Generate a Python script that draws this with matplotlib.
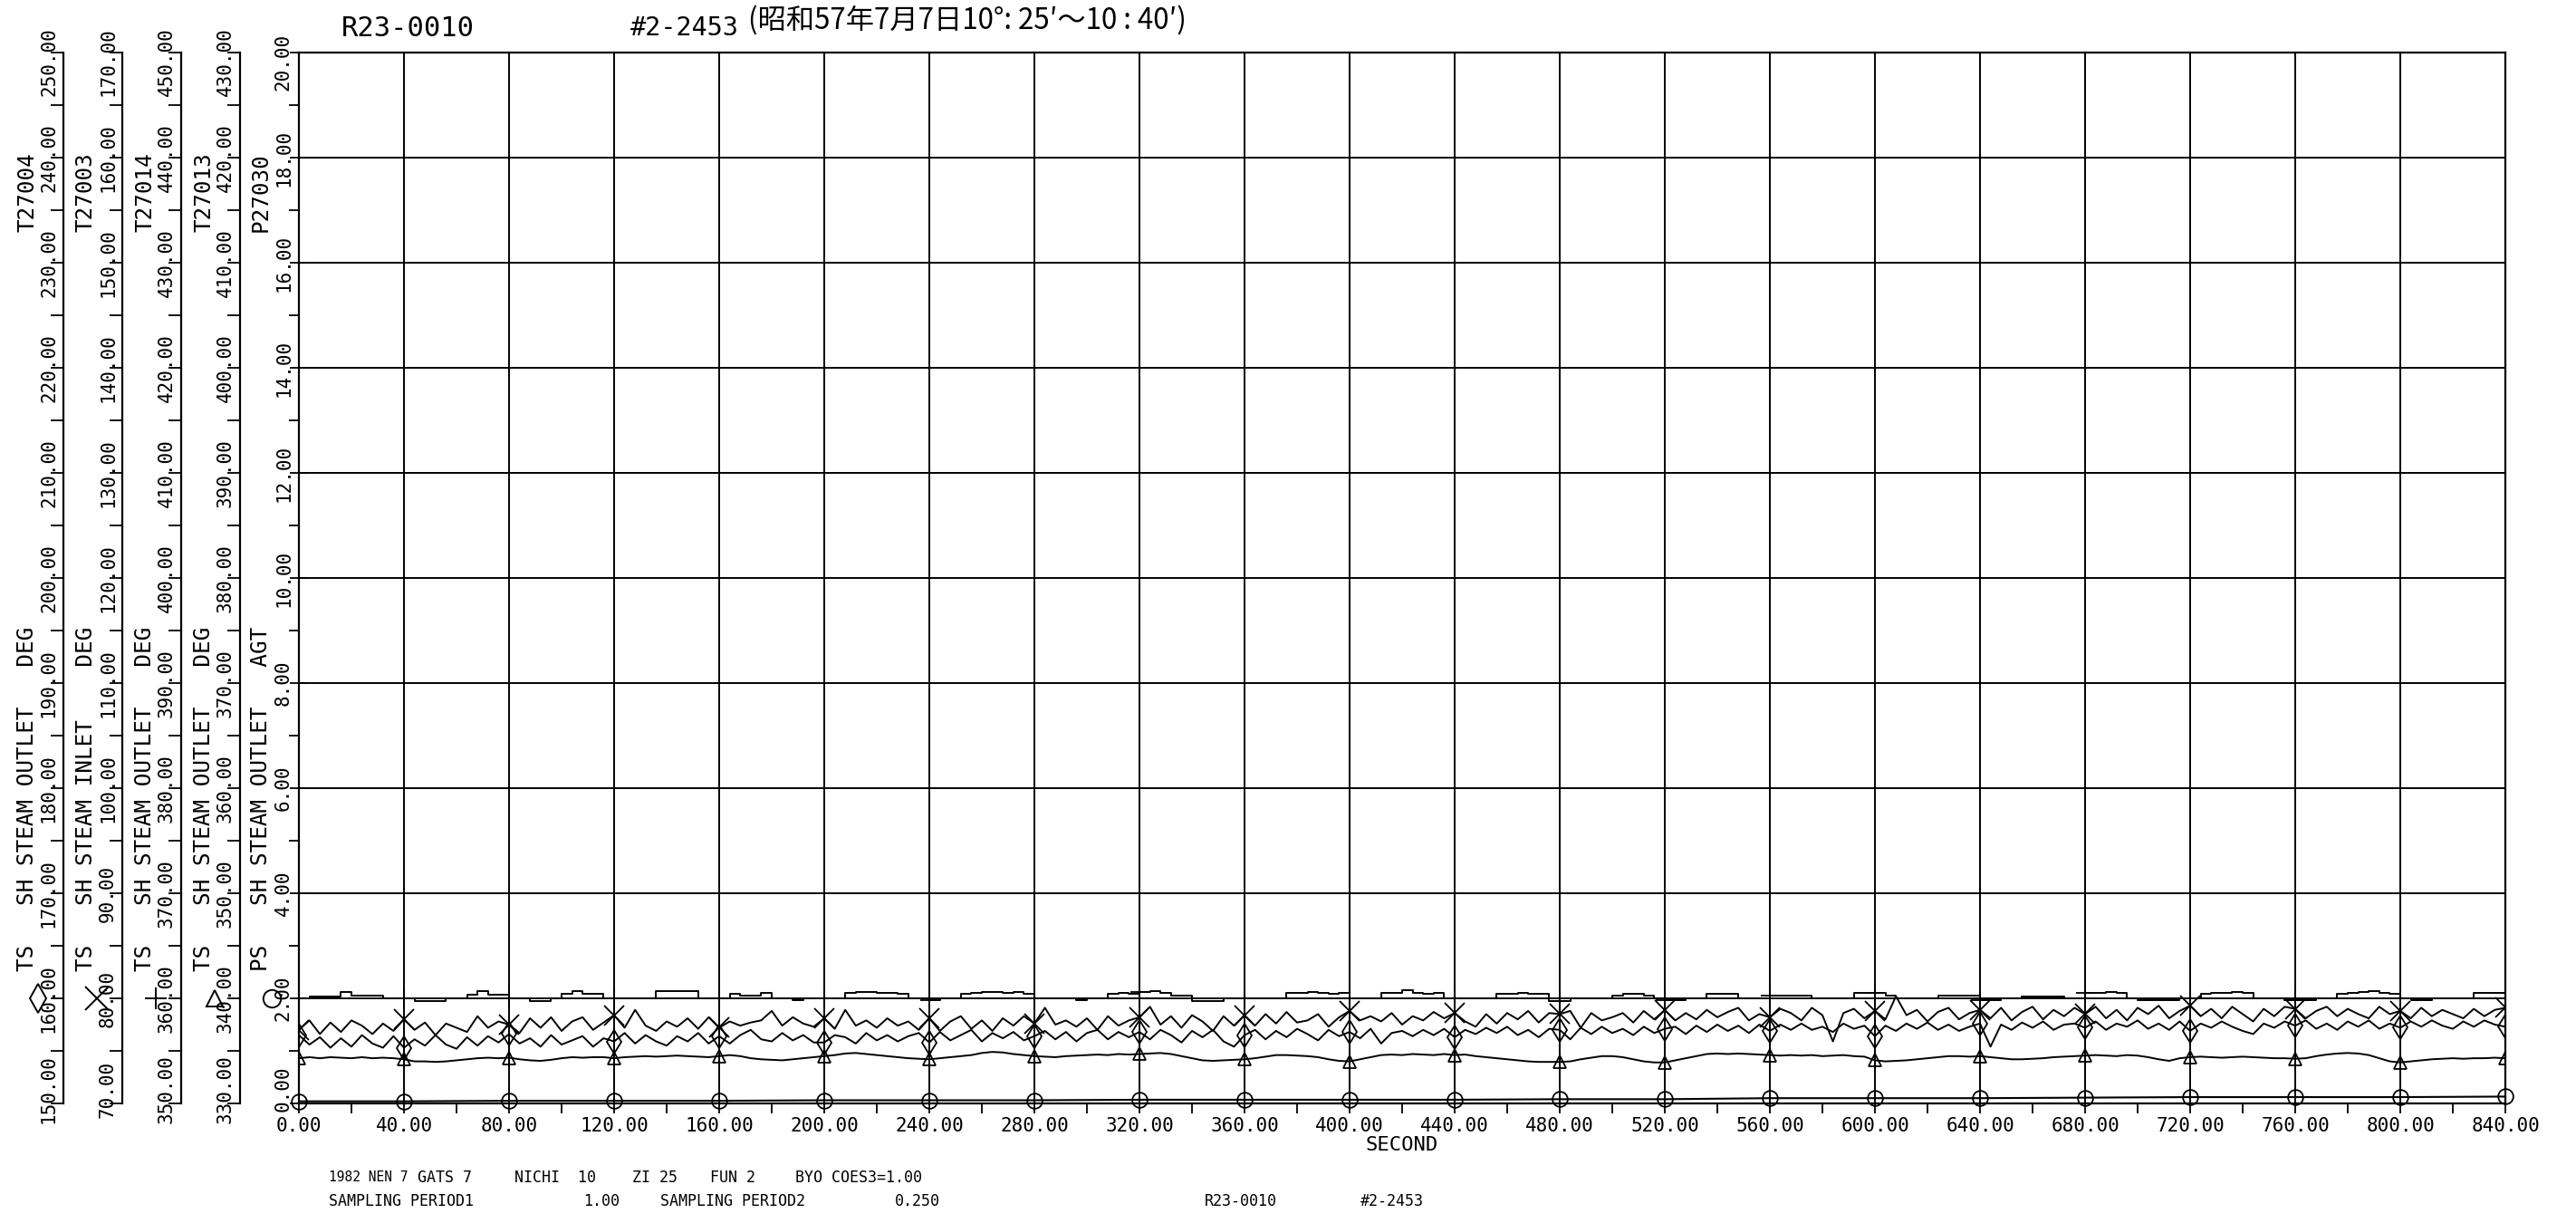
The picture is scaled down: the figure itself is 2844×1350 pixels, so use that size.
import numpy as np
import matplotlib
matplotlib.use("Agg")
import matplotlib.pyplot as plt
from matplotlib.ticker import MultipleLocator, FormatStrFormatter
from matplotlib.transforms import blended_transform_factory

# sample times (s)
t4 = np.arange(0, 841, 4)
t40 = np.arange(0, 841, 40)

# T27004  SH steam outlet (diamond)
t27004 = [
    156.5, 155.6, 156.3, 155.3, 156.2, 155.4, 156.5, 155.7, 155.3, 156.4,
    155.3, 156.1, 155.5, 156.5, 155.6, 155.2, 156.3, 155.5, 156.4, 155.8,
    156.6, 155.7, 156.2, 155.4, 156.5, 155.6, 156.0, 156.4, 155.4, 156.2,
    155.9, 156.7, 155.7, 156.5, 155.9, 155.5, 156.4, 155.9, 156.7, 155.7,
    156.4, 155.7, 156.5, 157.0, 156.1, 155.9, 156.7, 156.0, 156.5, 155.8,
    155.8, 156.5, 156.3, 155.7, 156.7, 156.0, 156.5, 155.9, 156.4, 156.7,
    155.8, 156.8, 156.0, 156.5, 157.0, 155.9, 156.7, 156.2, 156.8, 156.0,
    156.4, 156.9, 156.1, 156.8, 155.9, 156.7, 157.0, 156.1, 156.8, 156.3,
    156.8, 156.1, 157.0, 156.5, 155.8, 156.9, 156.3, 157.0, 155.9, 155.4,
    156.5, 157.0, 156.1, 156.9, 156.3, 157.1, 156.6, 156.0, 157.0, 156.4,
    156.8, 156.2, 157.1, 155.7, 156.7, 156.9, 156.4, 157.0, 156.5, 157.1,
    156.3, 157.0, 156.6, 157.2, 156.7, 157.3, 156.5, 157.0, 156.3, 157.1,
    157.0, 156.1, 157.2, 156.6, 157.3, 156.7, 157.1, 156.5, 157.3, 156.7,
    157.1, 157.3, 156.6, 157.4, 156.8, 157.5, 156.9, 157.4, 156.7, 157.5,
    156.9, 157.5, 157.0, 157.6, 157.0, 157.3, 156.8, 157.6, 157.1, 157.4,
    156.4, 157.4, 156.9, 157.6, 157.1, 157.7, 157.0, 157.5, 156.9, 157.3,
    157.6, 155.4, 157.5, 157.0, 157.7, 157.2, 157.8, 157.0, 157.5, 157.6,
    157.2, 157.8, 157.0, 157.6, 157.3, 157.9, 157.1, 157.6, 157.0, 157.8,
    156.9, 157.6, 157.2, 157.8, 157.3, 156.9, 156.6, 157.6, 157.2, 157.8,
    157.4, 157.9, 157.1, 157.6, 157.0, 157.8, 157.3, 157.9, 157.1, 157.6,
    157.2, 157.8, 157.3, 157.9, 157.4, 157.1, 157.8, 157.3, 157.9, 157.5,
    157.3,
]

# T27003  SH steam inlet (x)
t27003 = [
    77.0, 77.9, 76.6, 77.7, 76.8, 77.9, 77.4, 76.6, 77.6, 76.9,
    78.0, 77.0, 77.7, 76.5, 77.6, 77.2, 76.8, 78.3, 77.2, 77.8,
    77.5, 76.7, 78.1, 77.2, 78.2, 76.9, 77.8, 78.2, 77.0, 77.7,
    78.4, 77.2, 78.9, 77.4, 76.9, 77.8, 77.3, 78.1, 77.1, 78.2,
    77.2, 77.8, 77.4, 77.7, 77.9, 78.8, 77.4, 78.2, 77.6, 77.3,
    78.1, 77.1, 78.9, 77.4, 77.9, 77.2, 78.1, 77.4, 77.8, 77.0,
    78.1, 76.9, 77.8, 78.3, 77.1, 77.9, 76.9, 78.1, 77.4, 78.3,
    77.6, 79.1, 77.5, 77.9, 77.3, 78.1, 77.0, 78.3, 77.4, 77.9,
    78.2, 79.2, 77.5, 78.3, 77.2, 78.4, 77.8, 76.9, 78.3, 77.4,
    78.4, 77.4, 78.5, 77.6, 78.7, 77.7, 77.9, 78.5, 77.3, 78.2,
    78.8, 77.9, 78.3, 77.8, 78.6, 77.5, 78.3, 77.9, 78.7, 78.1,
    78.6, 77.8, 77.3, 78.5, 77.6, 78.6, 78.0, 78.8, 77.7, 78.6,
    78.5, 78.8, 77.2, 78.6, 77.9, 78.2, 78.6, 77.7, 78.8, 78.0,
    78.9, 77.9, 78.6, 78.0, 78.9, 78.2, 78.7, 79.1, 77.9, 78.5,
    78.2, 79.0, 78.6, 77.9, 79.1, 78.4, 75.9, 78.6, 79.0, 78.1,
    78.8, 78.0, 80.2, 78.4, 78.9, 77.8, 78.7, 79.1, 78.0, 78.6,
    78.9, 78.1, 79.1, 77.9, 78.7, 79.2, 78.0, 78.9, 78.3, 79.1,
    78.5, 79.2, 78.1, 78.9, 77.9, 79.1, 78.5, 79.3, 78.1, 78.8,
    79.3, 78.3, 79.0, 78.1, 79.2, 78.5, 77.8, 79.0, 78.3, 79.2,
    79.0, 78.1, 78.8, 79.2, 78.3, 79.0, 78.5, 78.1, 79.2, 78.5,
    78.8, 78.1, 79.1, 78.3, 78.9, 78.5, 78.1, 79.0, 78.3, 78.9,
    79.1,
]

# T27014  SH steam outlet (+)
t27014 = [
    360.0, 360.15, 360.15, 360.15, 360.6, 360.3, 360.3, 360.3, 360.0, 360.0,
    360.0, 359.7, 359.7, 359.7, 360.0, 360.0, 360.35, 360.65, 360.35, 360.35,
    360.0, 360.0, 359.75, 359.75, 360.0, 360.45, 360.7, 360.45, 360.45, 360.0,
    360.0, 360.0, 360.0, 360.0, 360.7, 360.7, 360.7, 360.7, 360.0, 360.0,
    360.0, 360.4, 360.3, 360.3, 360.5, 360.0, 360.0, 359.8, 360.0, 360.0,
    360.0, 360.0, 360.5, 360.6, 360.6, 360.5, 360.5, 360.4, 360.0, 360.0,
    359.8, 360.0, 360.0, 360.4, 360.5, 360.6, 360.6, 360.5, 360.6, 360.4,
    360.0, 360.0, 360.0, 360.0, 359.8, 360.0, 360.0, 360.4, 360.5, 360.4,
    360.6, 360.7, 360.5, 360.3, 360.3, 359.7, 359.7, 359.7, 360.0, 360.0,
    360.0, 360.0, 360.0, 360.0, 360.5, 360.5, 360.6, 360.5, 360.4, 360.5,
    360.0, 360.0, 360.0, 360.5, 360.5, 360.8, 360.5, 360.4, 360.5, 360.0,
    360.0, 360.0, 360.0, 360.0, 360.4, 360.4, 360.5, 360.4, 360.4, 359.7,
    359.7, 360.0, 360.0, 360.0, 360.0, 360.3, 360.4, 360.4, 360.3, 360.0,
    359.8, 359.8, 360.0, 360.0, 360.4, 360.4, 360.4, 360.0, 360.0, 360.0,
    360.3, 360.3, 360.3, 360.3, 360.0, 360.0, 360.0, 360.0, 360.5, 360.5,
    360.5, 360.3, 360.0, 360.0, 360.0, 360.0, 360.3, 360.3, 360.3, 360.3,
    359.8, 359.8, 360.0, 360.0, 360.15, 360.15, 360.15, 360.15, 360.0, 360.0,
    360.5, 360.5, 360.6, 360.5, 360.0, 359.85, 359.85, 359.85, 359.85, 360.0,
    360.0, 360.4, 360.5, 360.5, 360.6, 360.5, 360.0, 360.0, 360.0, 359.8,
    359.8, 359.8, 360.0, 360.0, 360.4, 360.5, 360.6, 360.7, 360.5, 360.4,
    360.0, 359.8, 359.8, 360.0, 360.0, 360.0, 360.0, 360.5, 360.5, 360.5,
    360.5,
]

# T27013  SH steam outlet (triangle)
t27013 = [
    334.3, 334.4, 334.3, 334.4, 334.35, 334.3, 334.4, 334.3, 334.35, 334.3,
    334.2, 334.0, 334.0, 333.95, 334.0, 334.1, 334.2, 334.3, 334.35, 334.3,
    334.35, 334.2, 334.1, 334.05, 334.15, 334.3, 334.4, 334.35, 334.4, 334.4,
    334.3, 334.4, 334.45, 334.5, 334.45, 334.5, 334.55, 334.5, 334.45, 334.4,
    334.5, 334.6, 334.5, 334.3, 334.2, 334.15, 334.1, 334.2, 334.3, 334.4,
    334.5, 334.6, 334.75, 334.8, 334.7, 334.6, 334.5, 334.4, 334.3, 334.25,
    334.2, 334.3, 334.4, 334.5, 334.6, 334.8, 334.9, 334.85, 334.7, 334.6,
    334.5, 334.45, 334.4, 334.5, 334.55, 334.6, 334.65, 334.6, 334.7, 334.65,
    334.7, 334.75, 334.8, 334.7, 334.5, 334.3, 334.1, 334.05, 334.1, 334.15,
    334.2, 334.3, 334.45, 334.6, 334.6, 334.55, 334.5, 334.4, 334.2, 334.05,
    334.0, 334.2, 334.4, 334.6, 334.65, 334.6, 334.7, 334.65, 334.6, 334.7,
    334.6, 334.65, 334.5, 334.4, 334.3, 334.2, 334.1, 334.0, 333.95, 333.95,
    333.95, 334.0, 334.2, 334.35, 334.5, 334.5, 334.4, 334.2, 334.0, 333.9,
    333.9, 334.1, 334.3, 334.5, 334.7, 334.75, 334.7, 334.75, 334.7, 334.65,
    334.6, 334.55, 334.6, 334.55, 334.6, 334.5, 334.55, 334.6, 334.5, 334.45,
    334.1, 334.0, 334.05, 334.1, 334.2, 334.3, 334.4, 334.5, 334.5, 334.45,
    334.5, 334.4, 334.3, 334.2, 334.2, 334.25, 334.3, 334.4, 334.45, 334.5,
    334.55, 334.6, 334.55, 334.5, 334.6, 334.55, 334.4, 334.2, 334.05, 334.3,
    334.4, 334.45, 334.4, 334.35, 334.4, 334.45, 334.4, 334.35, 334.3, 334.3,
    334.25, 334.3, 334.5, 334.65, 334.75, 334.8, 334.75, 334.6, 334.3, 334.0,
    333.9, 334.0, 334.1, 334.2, 334.25, 334.3, 334.25, 334.3, 334.3, 334.35,
    334.3,
]

# P27030  SH steam outlet pressure (circle), every 40 s
p27030 = [0.04, 0.04, 0.05, 0.05, 0.05, 0.06, 0.06, 0.06, 0.07, 0.07, 0.07,
          0.07, 0.08, 0.08, 0.10, 0.10, 0.10, 0.11, 0.12, 0.12, 0.12, 0.13]

W, H = 2844, 1350
L, R, T, B = 330, 2766, 58, 1218

plt.rcParams['font.family'] = 'DejaVu Sans Mono'


def fx(x):
    return x / W


def fy(y):
    return 1 - y / H


def scale_labels(axis, tr, lo, hi, step, xpix):
    # rotated scale numbers; the end ones are pulled in a little, as on the plotter sheet
    px = (hi - lo) / (B - T)
    for v in np.arange(lo, hi + step / 2, step):
        shift = 0.0
        if v == lo:
            shift = 16 * px
        elif v == hi:
            shift = -10 * px
        axis.text(fx(xpix), v + shift, f'{v:.2f}', transform=tr, rotation=90,
                  ha='center', va='center', fontsize=15)


fig = plt.figure(figsize=(W / 100, H / 100), dpi=100)
rect = [fx(L), fy(B), (R - L) / W, (B - T) / H]

ax = fig.add_axes(rect)
ax.set_xlim(0, 840)
ax.set_ylim(0, 20)
ax.xaxis.set_major_locator(MultipleLocator(40))
ax.xaxis.set_minor_locator(MultipleLocator(20))
ax.yaxis.set_major_locator(MultipleLocator(2))
ax.yaxis.set_minor_locator(MultipleLocator(1))
ax.xaxis.set_major_formatter(FormatStrFormatter('%.2f'))
ax.grid(True, which='major', color='black', lw=1.4)
ax.set_axisbelow(True)
ax.tick_params(axis='x', which='both', direction='out', length=8, width=1.3,
               labelsize=15, pad=3)
ax.tick_params(axis='y', which='major', direction='inout', length=14, width=1.3,
               labelleft=False)
ax.tick_params(axis='y', which='minor', direction='out', length=8, width=1.3)
for s in ax.spines.values():
    s.set_linewidth(1.6)

# P27030 on the main axis
ax.plot(t40, p27030, color='black', lw=1.5, marker='o', ms=12, mfc='none',
        mec='black', mew=1.3, clip_on=False, zorder=3)
trp = blended_transform_factory(fig.transFigure, ax.transData)
scale_labels(ax, trp, 0, 20, 2, L - 17)

series = [
    (t27004, 150, 250, 70, 'd', 13, 'T27004', 'TS   SH STEAM OUTLET   DEG', None),
    (t27003, 70, 170, 135, 'x', 16, 'T27003', 'TS   SH STEAM INLET    DEG', None),
    (t27014, 350, 450, 200, '+', 14, 'T27014', 'TS   SH STEAM OUTLET   DEG', 'steps-post'),
    (t27013, 330, 430, 265, '^', 10, 'T27013', 'TS   SH STEAM OUTLET   DEG', None),
]

for vals, lo, hi, xs, mk, ms, tag, desc, ds in series:
    a = fig.add_axes(rect)
    a.set_xlim(0, 840)
    a.set_ylim(lo, hi)
    a.patch.set_visible(False)
    for k in ('top', 'right', 'bottom'):
        a.spines[k].set_visible(False)
    a.spines['left'].set_position(('axes', (xs - L) / (R - L)))
    a.spines['left'].set_linewidth(1.6)
    a.xaxis.set_visible(False)
    a.yaxis.set_major_locator(MultipleLocator(10))
    a.yaxis.set_minor_locator(MultipleLocator(5))
    a.tick_params(axis='y', which='both', direction='out', length=10, width=1.3,
                  labelleft=False)
    kw = dict(color='black', lw=1.4, marker=mk, ms=ms, mfc='none', mec='black',
              mew=1.3, markevery=10)
    if ds:
        kw['drawstyle'] = ds
    a.plot(t4, vals, **kw)

    tr = blended_transform_factory(fig.transFigure, a.transData)
    scale_labels(a, tr, lo, hi, 10, xs - 16)
    # symbol key beside the scale
    a.plot([fx(xs - 28)], [lo + 10], transform=tr, marker=mk, ms=ms + 3,
           mfc='none', mec='black', mew=1.4, clip_on=False, ls='none')
    fig.text(fx(xs - 40), fy(212), tag, rotation=90, ha='center', va='center',
             fontsize=17.5)
    fig.text(fx(xs - 40), fy(1072), desc, rotation=90, ha='center', va='bottom',
             fontsize=17.5)

# key and labels for the main (pressure) scale
ax.plot([fx(L - 30)], [2], transform=trp, marker='o', ms=14, mfc='none',
        mec='black', mew=1.4, clip_on=False, ls='none')
fig.text(fx(L - 42), fy(212), 'P27030', rotation=90, ha='center', va='center',
         fontsize=17.5)
fig.text(fx(L - 42), fy(1072), 'PS   SH STEAM OUTLET   AGT', rotation=90,
         ha='center', va='bottom', fontsize=17.5)

fig.text(fx(1548), fy(1264), 'SECOND', ha='center', va='center', fontsize=16)

# header
fig.text(fx(377), fy(31), 'R23-0010', ha='left', va='center', fontsize=22)
fig.text(fx(696), fy(31), '#2-2453', ha='left', va='center', fontsize=20.5)
fig.text(fx(826), fy(22), '(昭和57年7月7日10°: 25′〜10 : 40′)', ha='left',
         va='center', fontsize=22.5, family=['Noto Sans CJK JP', 'DejaVu Sans'])

# footer
foot = 12
fig.text(fx(363), fy(1300), '1982 NEN 7', va='center', fontsize=10.5)
fig.text(fx(461), fy(1300), 'GATS 7', va='center', fontsize=foot)
fig.text(fx(568), fy(1300), 'NICHI  10', va='center', fontsize=foot)
fig.text(fx(698), fy(1300), 'ZI 25', va='center', fontsize=foot)
fig.text(fx(784), fy(1300), 'FUN 2', va='center', fontsize=foot)
fig.text(fx(878), fy(1300), 'BYO COES3=1.00', va='center', fontsize=foot)
fig.text(fx(363), fy(1326), 'SAMPLING PERIOD1', va='center', fontsize=foot)
fig.text(fx(644), fy(1326), '1.00', va='center', fontsize=foot)
fig.text(fx(729), fy(1326), 'SAMPLING PERIOD2', va='center', fontsize=foot)
fig.text(fx(988), fy(1326), '0.250', va='center', fontsize=foot)
fig.text(fx(1330), fy(1326), 'R23-0010', va='center', fontsize=foot)
fig.text(fx(1502), fy(1326), '#2-2453', va='center', fontsize=foot)

fig.savefig('out.png', dpi=100, facecolor='white')
